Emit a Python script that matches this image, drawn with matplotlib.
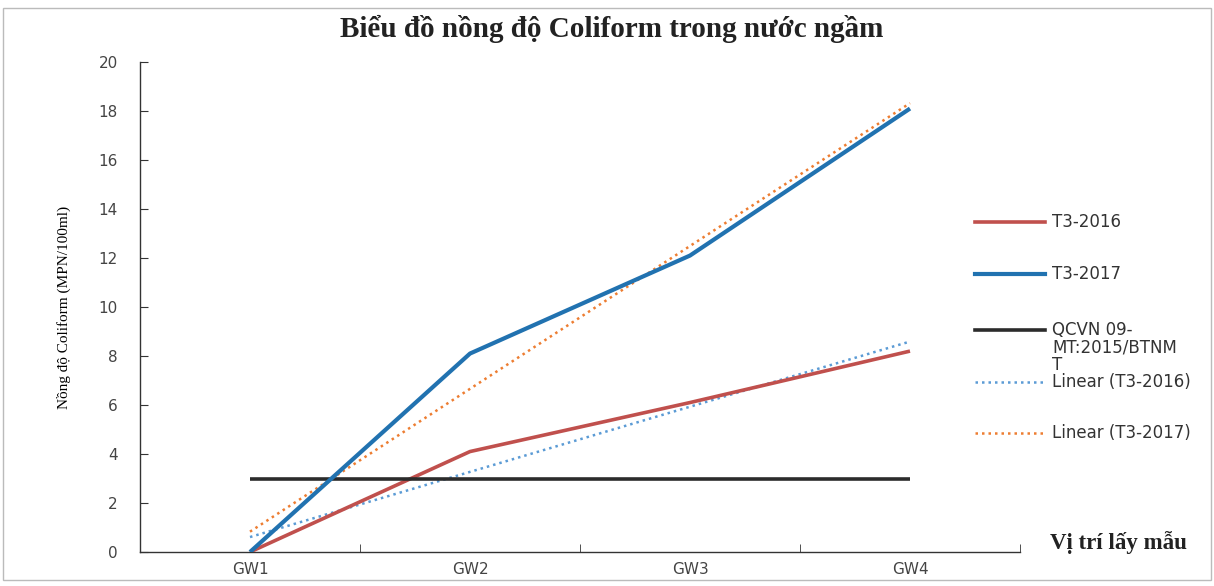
import numpy as np
import matplotlib
matplotlib.use("Agg")
import matplotlib.pyplot as plt
from matplotlib.lines import Line2D
from matplotlib.patches import Rectangle

# data
vi_tri = ["GW1", "GW2", "GW3", "GW4"]
t3_2016 = [0, 4.1, 6.1, 8.2]
t3_2017 = [0, 8.1, 12.1, 18.1]
qcvn = [3, 3, 3, 3]
y_ticks = [0, 2, 4, 6, 8, 10, 12, 14, 16, 18, 20]

plt.rcParams["font.family"] = ["DejaVu Sans"]

W, H = 1214, 586
fig = plt.figure(figsize=(W / 100, H / 100), dpi=100)
ax = fig.add_axes([140 / W, 1 - 552 / H, 880 / W, 490 / H])

x = np.arange(1, len(vi_tri) + 1)

# trend lines (least squares, like Excel "Linear")
def trend(y):
    m, b = np.polyfit(x, y, 1)
    return m * x + b

RED, BLUE, BLACK = "#c0504d", "#2172b0", "#2b2b2b"
LBLUE, ORANGE = "#5b9bd5", "#ed7d31"
DOT = (0, (1, 1.6))

ax.plot(x, t3_2016, color=RED, lw=2.6, solid_capstyle="butt", zorder=3)
ax.plot(x, t3_2017, color=BLUE, lw=3.0, solid_capstyle="butt", zorder=4)
ax.plot(x, qcvn, color=BLACK, lw=2.6, solid_capstyle="butt", zorder=3)
ax.plot(x, trend(t3_2016), color=LBLUE, lw=1.8, ls=DOT, zorder=2)
ax.plot(x, trend(t3_2017), color=ORANGE, lw=1.8, ls=DOT, zorder=2)

ax.set_xlim(0.5, 4.5)
ax.set_ylim(0, 20)
ax.set_yticks(y_ticks)
ax.set_xticks(x)
ax.set_xticklabels(vi_tri)
ax.set_xticks(np.arange(0.5, 5, 1), minor=True)
ax.tick_params(axis="x", which="major", length=0, pad=7, labelsize=11)
ax.tick_params(axis="x", which="minor", direction="in", length=6, color="#333333")
ax.tick_params(axis="y", direction="in", length=6, pad=16, labelsize=11,
               color="#333333")
for lab in ax.get_yticklabels() + ax.get_xticklabels():
    lab.set_color("#444444")
for s in ["top", "right"]:
    ax.spines[s].set_visible(False)
for s in ["left", "bottom"]:
    ax.spines[s].set_color("#333333")
    ax.spines[s].set_linewidth(1.0)

ax.set_ylabel("Nồng độ Coliform (MPN/100ml)", family="Liberation Serif",
              fontsize=11)
ax.yaxis.set_label_coords(-0.078, 0.5)

fig.text(612 / W, 1 - 29 / H, "Biểu đồ nồng độ Coliform trong nước ngầm",
         ha="center", va="center", family="Liberation Serif", fontsize=21,
         fontweight="bold", color="#222222")
fig.text(1050 / W, 1 - 543 / H, "Vị trí lấy mẫu", ha="left", va="center",
         family="Liberation Serif", fontsize=16.5, fontweight="bold", color="#222222")

# legend drawn at fixed slots on the right
entries = [
    ("T3-2016", dict(color=RED, lw=2.6), 222),
    ("T3-2017", dict(color=BLUE, lw=3.0), 274),
    ("QCVN 09-\nMT:2015/BTNM\nT", dict(color=BLACK, lw=2.6), 330),
    ("Linear (T3-2016)", dict(color=LBLUE, lw=1.8, ls=DOT), 382),
    ("Linear (T3-2017)", dict(color=ORANGE, lw=1.8, ls=DOT), 433),
]
for label, style, yp in entries:
    yf = 1 - yp / H
    fig.add_artist(Line2D([975 / W, 1045 / W], [yf, yf], transform=fig.transFigure,
                          **style))
    if "\n" in label:
        # first line sits on the handle, the rest wraps below it
        fig.text(1052 / W, 1 - (yp - 9) / H, label, ha="left", va="top",
                 fontsize=12, color="#333333", linespacing=0.95)
    else:
        fig.text(1052 / W, yf, label, ha="left", va="center",
                 fontsize=12, color="#333333")

# page frame
fig.add_artist(Rectangle((3 / W, 1 - 580 / H), 1208 / W, 572 / H,
                         transform=fig.transFigure, fill=False, ec="#bbbbbb", lw=1.0))

fig.savefig("out.png", dpi=100)
